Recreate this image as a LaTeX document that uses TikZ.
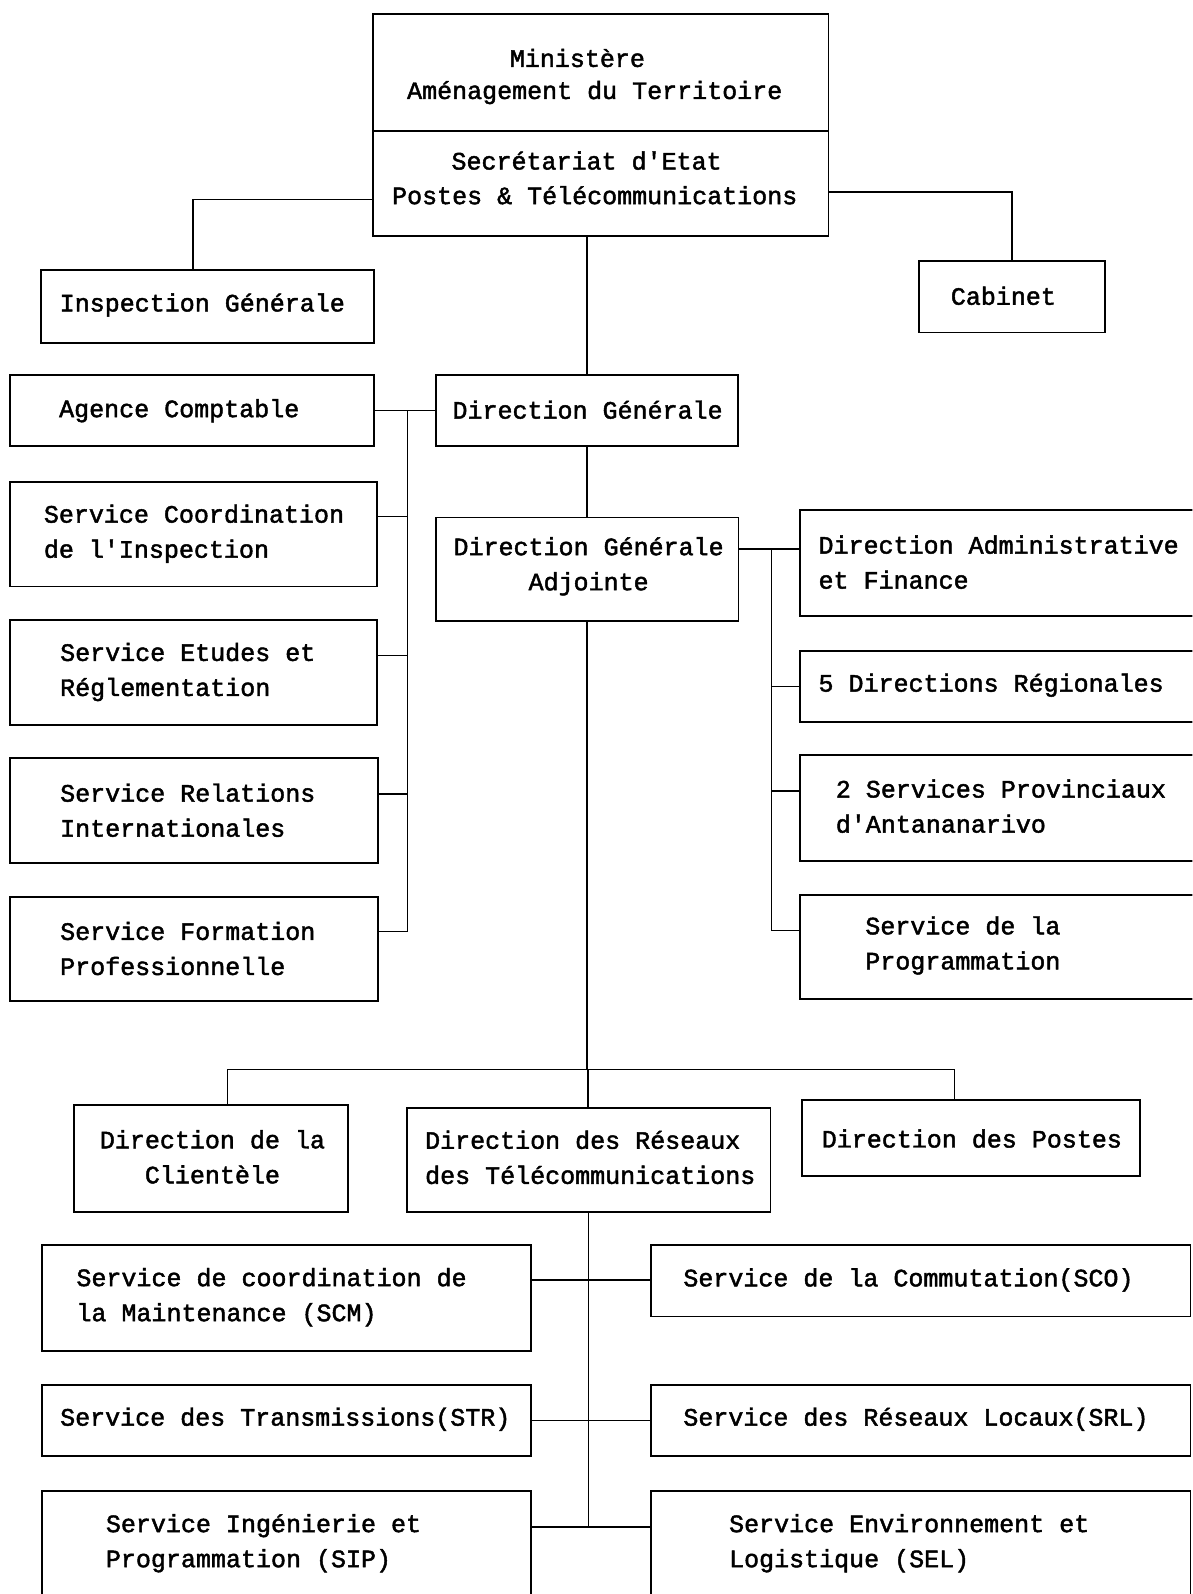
\documentclass[tikz,border=0pt]{standalone}
\usepackage{fontspec}
\newfontfamily\orgfont[FakeBold=1.8]{Liberation Mono}
\begin{document}
\begin{tikzpicture}[x=1pt,y=-1pt,
  box/.style={draw, line width=1.8pt, inner sep=0pt},
  txt/.style={font=\orgfont\fontsize{24.6}{34.5}\selectfont, inner sep=0pt, align=left, anchor=west},
  ctxt/.style={txt, align=center, anchor=center},
  conn/.style={line width=1.3pt}]
\clip (0,0) rectangle (1173,1568);
\fill[white] (0,0) rectangle (1173,1568);
% top
\node[box, minimum width=448pt, minimum height=218pt] (top) at (591,123) {};
\draw[line width=1.6pt] (top.west |- 0,129) -- (top.east |- 0,129);
\node[ctxt] (t1a) at (568,57) {Ministère};
\node[ctxt] (t1b) at (585,91) {Aménagement du Territoire};
\node[ctxt] (t2a) at (577,158) {Secrétariat d'Etat};
\node[ctxt] (t2b) at (585,192) {Postes \& Télécommunications};
% inspection / cabinet
\node[box, minimum width=328pt, minimum height=71pt] (insp) at (204,301.5) {};
\node[ctxt] (insptx) at (199,300) {Inspection Générale};
\node[box, minimum width=183pt, minimum height=70pt] (cab) at (995.5,292) {};
\node[ctxt] (cabtx) at (987,291) {Cabinet};
\draw[conn] (top.west |- 0,196) -| (insp.north -| 190,0);
\draw[conn] (top.east |- 0,189) -| (cab.north);
% DG
\node[box, minimum width=297pt, minimum height=70pt] (dg) at (577.5,404) {};
\node[ctxt] (dgtx) at (578,403) {Direction Générale};
\draw[conn] (top.south -| dg.north) -- (dg.north);
\node[box, minimum width=358pt, minimum height=70pt] (ac) at (189,404) {};
\node[txt] (actx) at (58,404) {Agence Comptable};
\draw[conn] (ac.east) -- (dg.west);
% left column
\node[box, minimum width=361pt, minimum height=103pt] (sci) at (190.5,525.5) {};
\node[txt] (scitx) at (43,525) {Service Coordination\\de l'Inspection};
\node[box, minimum width=361pt, minimum height=103pt] (ser) at (190.5,661.5) {};
\node[txt] (sertx) at (59,661) {Service Etudes et\\Réglementation};
\node[box, minimum width=362pt, minimum height=103pt] (sri) at (191,797.5) {};
\node[txt] (sritx) at (59,797) {Service Relations\\Internationales};
\node[box, minimum width=362pt, minimum height=103pt] (sfp) at (191,933.5) {};
\node[txt] (sfptx) at (59,933) {Service Formation\\Professionnelle};
\coordinate (lbus) at (401,404);
\draw[conn] (sfp.east |- 0,916) -| (lbus);
\draw[conn] (sci.east |- 0,508) -- (lbus |- 0,508);
\draw[conn] (ser.east |- 0,645) -- (lbus |- 0,645);
\draw[conn] (sri.east |- 0,781) -- (lbus |- 0,781);
% DGA
\node[box, minimum width=298pt, minimum height=102pt] (dga) at (577.5,560) {};
\node[ctxt] (dgatx) at (579,557) {Direction Générale\\Adjointe};
\draw[conn] (dg.south) -- (dga.north);
% right column
\node[box, minimum width=403pt, minimum height=104pt] (daf) at (988.5,554) {};
\node[txt] (daftx) at (805,553) {Direction Administrative\\et Finance};
\node[box, minimum width=403pt, minimum height=70pt] (dr5) at (988.5,675) {};
\node[txt] (dr5tx) at (805,674) {5 Directions Régionales};
\node[box, minimum width=403pt, minimum height=104pt] (sp2) at (988.5,795) {};
\node[txt] (sp2tx) at (822,793) {2 Services Provinciaux\\d'Antananarivo};
\node[box, minimum width=403pt, minimum height=103pt] (spg) at (988.5,931.5) {};
\node[txt] (spgtx) at (851,930) {Service de la\\Programmation};
\coordinate (rbus) at (759,540);
\draw[conn] (dga.east |- 0,540) -- (daf.west |- 0,540);
\draw[conn] (rbus) |- (spg.west |- 0,915);
\draw[conn] (rbus |- 0,675) -- (dr5.west);
\draw[conn] (rbus |- 0,778) -- (sp2.west |- 0,778);
% directions row
\coordinate (hbar) at (578.5,1052);
\draw[conn] (dga.south) -- (dga.south |- hbar);
\node[box, minimum width=269pt, minimum height=105pt] (dcl) at (207.5,1139.5) {};
\node[ctxt] (dcltx) at (209,1138) {Direction de la\\Clientèle};
\node[box, minimum width=358pt, minimum height=102pt] (drt) at (579,1141) {};
\node[txt] (drttx) at (418,1138.5) {Direction des Réseaux\\des Télécommunications};
\node[box, minimum width=332pt, minimum height=75pt] (dpo) at (955,1119.5) {};
\node[ctxt] (dpotx) at (956,1120) {Direction des Postes};
\draw[conn] ([xshift=16.5pt]dcl.north) |- (hbar) -| ([xshift=-16pt]dpo.north);
\draw[conn] (hbar) -- (hbar |- drt.north);
% services
\coordinate (bbus) at (581,1502);
\draw[conn] (drt.south) -- (drt.south |- bbus);
\node[box, minimum width=481pt, minimum height=104pt] (scm) at (281.5,1277) {};
\node[txt] (scmtx) at (75,1276) {Service de coordination de\\la Maintenance (SCM)};
\node[box, minimum width=531pt, minimum height=70pt] (sco) at (905.5,1260) {};
\node[txt] (scotx) at (672,1259) {Service de la Commutation(SCO)};
\draw[conn] (scm.east |- 0,1259) -- (sco.west |- 0,1259);
\node[box, minimum width=481pt, minimum height=70pt] (str) at (281.5,1397) {};
\node[txt] (strtx) at (59,1396) {Service des Transmissions(STR)};
\node[box, minimum width=531pt, minimum height=70pt] (srl) at (905.5,1397) {};
\node[txt] (srltx) at (672,1396) {Service des Réseaux Locaux(SRL)};
\draw[conn] (str.east) -- (srl.west);
\node[box, minimum width=481pt, minimum height=123pt] (sip) at (281.5,1528.5) {};
\node[txt] (siptx) at (104,1518) {Service Ingénierie et\\Programmation (SIP)};
\node[box, minimum width=531pt, minimum height=123pt] (sel) at (905.5,1528.5) {};
\node[txt] (seltx) at (717,1518) {Service Environnement et\\Logistique (SEL)};
\draw[conn] (sip.east |- bbus) -- (sel.west |- bbus);
\end{tikzpicture}
\end{document}
